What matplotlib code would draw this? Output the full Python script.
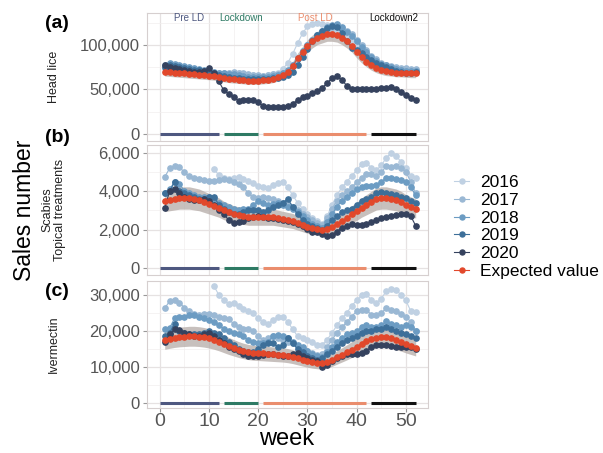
import numpy as np
import matplotlib
matplotlib.use("Agg")
import matplotlib.pyplot as plt
from matplotlib.lines import Line2D

plt.rcParams['font.family'] = ['Liberation Sans', 'DejaVu Sans']

nan = np.nan
weeks = np.arange(1, 53)
years = ['2016', '2017', '2018', '2019', '2020']
year_colors = ['#c0d1e3', '#9ab8d4', '#6c9cc3', '#3d6f99', '#35425e']
exp_color = '#e2482b'

# lockdown periods (start week, end week)
period_names = ['Pre LD', 'Lockdown', 'Post LD', 'Lockdown2']
period_start = [0, 13, 21, 43]
period_end = [12, 20, 42, 52]
period_colors = ['#4e5880', '#2e7a64', '#ea8d6d', '#111111']

# ---- (a) head lice, sales
lice_2016 = [nan] * 10 + [68, 67, 67, 68, 69, 68, 67, 66, 66, 65, 65, 66, 67, 69, 73, 80, 90, 102, 113, 121,
                          124, 125, 124, 122, 120, 117, 113, 108, 103, 98, 93, 88, 84, 80, 77, 75, 74, 73, 72, 72, 72, 72]
lice_2017 = [74, 76, 75, 74, 74, 73, 73, 72, 71, 70, 69, 68, 68, 69, 70, 69, 68, 67, 66, 66, 65, 66, 67, 67, 68, 71,
             77, 85, 93, 100, 106, 111, 115, 118, 120, 121, 119, 116, 112, 106, 100, 94, 88, 84, 80, 78, 76, 75, 74, 74, 73, 73]
lice_2018 = [78, 80, 79, 77, 76, 75, 74, 73, 72, 71, 70, 69, 68, 67, 67, 66, 65, 64, 64, 64, 64, 64, 65, 66, 68, 72,
             78, 85, 93, 100, 106, 111, 116, 120, 123, 124, 120, 115, 110, 104, 98, 92, 86, 82, 79, 77, 75, 73, 72, 71, 71, 71]
lice_2019 = [75, 77, 76, 75, 74, 73, 72, 72, 71, 70, 68, 66, 65, 64, 63, 63, 62, 62, 62, 62, 62, 62, 63, 63, 64, 66,
             70, 77, 86, 95, 104, 111, 116, 119, 121, 120, 114, 104, 97, 94, 91, 87, 83, 80, 77, 75, 73, 71, 70, 69, 69, 70]
lice_2020 = [77, 75, 74, 73, 72, 71, 70, 70, 71, 74, 68, 59, 49, 45, 42, 37, 38, 38, 38, 36, 31, 30, 30, 30, 30, 31,
             34, 38, 41, 43, 46, 48, 52, 57, 63, 65, 61, 54, 50, 50, 51, 51, 50, 51, 52, 52, 53, 50, 47, 44, 40, 38]
lice_exp = [70, 69.5, 69, 68.5, 68, 67.5, 67, 66.5, 66, 65.5, 65, 64, 63, 62, 61.5, 61, 60.5, 60, 60, 60, 60.5, 61,
            62, 64, 66, 70, 76, 85, 92, 99, 104, 108, 110, 112, 112, 111, 108, 104, 99, 92, 86, 81, 77, 74, 72,
            70.5, 70, 69, 69, 68.5, 68, 68]

# ---- (b) scabies topical treatments
scab_2016 = [nan] * 10 + [5150, 4850, 4700, 4650, 4700, 4750, 4650, 4550, 4450, 4300, 4200, 4150, 4350, 4450, 4500,
                          4200, 3800, 3400, 3100, 2800, 2600, 2450, 2300, 2700, 3300, 3800, 4200, 4500, 4800, 5100,
                          5400, 5500, 5200, 5100, 5350, 5750, 6000, 5850, 5550, 5200, 4800, 4700]
scab_2017 = [4750, 5200, 5300, 5250, 5000, 4800, 4700, 4650, 4600, 4550, 4550, 4600, 4650, 4600, 4500, 4400, 4200,
             3900, 3700, 3650, 3700, 3650, 3600, 3500, 3400, 3300, 3200, 3000, 2800, 2650, 2500, 2350, 2250, 2600,
             3100, 3500, 3800, 4000, 4200, 4500, 4700, 4900, 4900, 4800, 5000, 5300, 5250, 5300, 5200, 5000, 4500, 3900]
scab_2018 = [3900, 4100, 4500, 4400, 4000, 3900, 3800, 3700, 3700, 3700, 3600, 3400, 3300, 3200, 3100, 3000, 3050,
             3100, 3300, 3500, 3400, 3300, 3350, 3400, 3300, 3200, 3100, 2900, 2700, 2500, 2300, 2200, 2100, 2400,
             2800, 3200, 3500, 3700, 3900, 4100, 4200, 4300, 4300, 4350, 4500, 4700, 4700, 4650, 4600, 4500, 4200, 3800]
scab_2019 = [3900, 4000, 4500, 4000, 3900, 3800, 3700, 3600, 3600, 3700, 3700, 3300, 3100, 2900, 2800, 2800, 2900,
             3000, 3000, 3000, 2900, 3000, 3200, 3300, 3400, 3600, 3200, 2800, 2500, 2300, 2200, 2100, 2000, 2200,
             2500, 2700, 2900, 3000, 3100, 3300, 3500, 3600, 3700, 3900, 3950, 3900, 3850, 3800, 3700, 3650, 3500, 3400]
scab_2020 = [3150, 4000, 4100, 3900, 3700, 3600, 3550, 3550, 3600, 3500, 3300, 3000, 2800, 2500, 2350, 2400, 2450,
             2600, 2650, 2700, 2650, 2600, 2600, 2550, 2500, 2450, 2400, 2300, 2200, 2050, 1900, 1850, 1750, 1650,
             1700, 1900, 2100, 2200, 2300, 2250, 2250, 2300, 2400, 2500, 2600, 2650, 2700, 2750, 2800, 2800, 2700, 2200]
scab_exp = [3500, 3550, 3600, 3650, 3650, 3650, 3600, 3550, 3450, 3350, 3250, 3150, 3000, 2900, 2800, 2750, 2700,
            2650, 2650, 2650, 2650, 2650, 2650, 2600, 2550, 2500, 2450, 2350, 2250, 2150, 2100, 2050, 2000, 2050,
            2150, 2300, 2450, 2600, 2800, 2950, 3150, 3300, 3450, 3600, 3650, 3650, 3600, 3550, 3450, 3300, 3200, 3100]

# ---- (c) ivermectin
iver_2016 = [nan] * 10 + [32.5, 30.0, 28.5, 27.5, 27.8, 27.0, 26.0, 25.5, 25.0, 23.5, 22.5, 22.0, 23.0, 23.8, 24.0,
                          22.5, 20.5, 18.5, 18.0, 17.5, 17.0, 16.0, 16.2, 17.5, 19.5, 21.5, 23.5, 25.0, 27.0, 28.5,
                          30.0, 30.3, 28.5, 27.8, 29.0, 31.0, 31.8, 31.5, 30.0, 28.5, 25.5, 25.3]
iver_2017 = [26.3, 28.3, 28.5, 27.8, 26.5, 25.5, 24.8, 24.5, 24.8, 24.8, 24.5, 24.0, 23.5, 23.2, 22.0, 21.0, 20.5,
             20.5, 20.0, 18.5, 17.5, 18.0, 18.5, 18.0, 17.5, 17.0, 16.5, 15.5, 15.0, 14.5, 13.8, 13.2, 13.5, 15.5,
             17.5, 19.5, 21.0, 22.5, 24.0, 25.5, 25.8, 25.8, 24.5, 24.5, 25.0, 26.3, 25.8, 25.5, 24.8, 24.0, 22.5, 20.0]
iver_2018 = [20.5, 20.8, 23.5, 24.0, 24.0, 24.3, 24.5, 24.0, 23.5, 23.0, 22.5, 21.5, 20.5, 20.0, 19.5, 19.0, 18.5,
             17.5, 17.0, 16.5, 16.5, 17.0, 18.5, 18.8, 18.5, 18.0, 17.0, 16.0, 15.5, 14.5, 13.5, 13.0, 12.8, 14.0,
             15.5, 17.0, 18.0, 19.0, 19.5, 20.0, 21.0, 21.5, 21.0, 21.0, 21.5, 22.8, 22.0, 21.5, 21.0, 21.5, 21.0, 20.0]
iver_2019 = [18.5, 19.5, 22.0, 20.0, 19.5, 19.0, 19.2, 19.0, 19.5, 20.0, 19.5, 19.0, 18.0, 17.0, 16.0, 15.0, 14.5,
             14.0, 14.0, 15.0, 16.0, 16.5, 16.5, 15.5, 16.0, 18.0, 16.5, 15.0, 14.0, 13.0, 12.5, 12.0, 12.5, 13.5,
             14.5, 15.5, 16.5, 17.5, 18.0, 18.5, 19.5, 20.0, 20.0, 20.5, 20.5, 21.0, 20.5, 20.0, 19.5, 19.0, 18.5, 18.0]
iver_2020 = [17.0, 19.0, 20.5, 20.3, 19.5, 19.0, 18.5, 18.5, 19.0, 19.5, 18.5, 17.5, 16.5, 15.5, 15.0, 14.5, 13.5,
             13.0, 13.0, 13.0, 13.2, 13.5, 13.5, 13.3, 13.0, 13.0, 13.5, 13.8, 13.0, 12.5, 12.0, 11.5, 10.0, 10.5,
             11.5, 12.5, 13.0, 13.5, 13.5, 13.5, 13.8, 14.5, 15.5, 16.0, 16.0, 16.0, 15.8, 15.5, 15.5, 15.5, 15.5, 15.0]
iver_exp = [17.5, 17.8, 18.1, 18.3, 18.4, 18.5, 18.5, 18.4, 18.2, 17.9, 17.5, 17.0, 16.4, 15.8, 15.3, 14.8, 14.4,
            14.1, 13.9, 13.8, 13.7, 13.6, 13.5, 13.4, 13.3, 13.1, 12.8, 12.4, 12.0, 11.6, 11.3, 11.1, 11.0, 11.3,
            11.9, 12.6, 13.3, 14.0, 14.8, 15.6, 16.4, 17.1, 17.7, 18.1, 18.3, 18.2, 17.9, 17.4, 16.9, 16.3, 15.8, 15.3]

# relative half width of the grey prediction band
band_a, band_b, band_c = 0.07, 0.16, 0.15

panels = [
    dict(series=[lice_2016, lice_2017, lice_2018, lice_2019, lice_2020], exp=lice_exp, scale=1000, band=band_a,
         ylim=(-8000, 136000), major=[0, 50000, 100000], minor=[25000, 75000, 125000],
         ylabel='Head lice', tag='(a)', rect=[0.2438, 0.6887, 0.466, 0.2826]),
    dict(series=[scab_2016, scab_2017, scab_2018, scab_2019, scab_2020], exp=scab_exp, scale=1, band=band_b,
         ylim=(-370, 6420), major=[0, 2000, 4000, 6000], minor=[1000, 3000, 5000],
         ylabel='Scabies\nTopical treatments', tag='(b)', rect=[0.2438, 0.393, 0.466, 0.287]),
    dict(series=[iver_2016, iver_2017, iver_2018, iver_2019, iver_2020], exp=iver_exp, scale=1000, band=band_c,
         ylim=(-1500, 33900), major=[0, 10000, 20000, 30000], minor=[5000, 15000, 25000],
         ylabel='Ivermectin', tag='(c)', rect=[0.2438, 0.0993, 0.466, 0.2804]),
]
tag_y = [23, 138, 291]

fig = plt.figure(figsize=(6.03, 4.53), dpi=100)

for i, p in enumerate(panels):
    ax = fig.add_axes(p['rect'])
    ax.set_xlim(-2.6, 54.5)
    ax.set_ylim(*p['ylim'])
    ax.set_yticks(p['major'])
    ax.set_yticks(p['minor'], minor=True)
    ax.set_xticks([0, 10, 20, 30, 40, 50])
    ax.set_xticks([5, 15, 25, 35, 45], minor=True)
    ax.grid(True, which='major', color='#e6e2e2', linewidth=0.9)
    ax.grid(True, which='minor', color='#f1eeee', linewidth=0.5)
    ax.set_axisbelow(True)
    for s in ax.spines.values():
        s.set_color('#d6cfcf')
        s.set_linewidth(0.8)
    ax.tick_params(axis='y', which='major', labelsize=12, labelcolor='#555555', color='#999999', length=3, pad=2)
    ax.tick_params(which='minor', length=0)
    ax.tick_params(axis='x', which='major', labelsize=14, labelcolor='#555555', color='#999999', length=3, pad=0.5)
    ax.yaxis.set_major_formatter(matplotlib.ticker.FuncFormatter(lambda v, _: f'{int(v):,}'))
    if i < 2:
        ax.tick_params(axis='x', labelbottom=False, length=0)

    exp = np.array(p['exp']) * p['scale']
    ax.fill_between(weeks, exp * (1 - p['band']), exp * (1 + p['band']), color='#b0a6a2', alpha=0.7,
                    linewidth=0, zorder=1)
    for vals, c in zip(p['series'], year_colors):
        ax.plot(weeks, np.array(vals) * p['scale'], '-o', color=c, markersize=3.8, linewidth=0.8, zorder=2)
    ax.plot(weeks, exp, '-o', color=exp_color, markersize=3.8, linewidth=0.8, zorder=3)

    for s0, s1, c in zip(period_start, period_end, period_colors):
        ax.plot([s0, s1], [0, 0], color=c, linewidth=2.2, solid_capstyle='butt', zorder=3)
    if i == 0:
        for s0, s1, c, n in zip(period_start, period_end, period_colors, period_names):
            ax.text((s0 + s1) / 2, 130000, n, color=c, fontsize=7, ha='center', va='center')

    fig.text(57 / 603, 1 - tag_y[i] / 453, p['tag'], fontsize=14, fontweight='bold', ha='center', va='center')
    cy = p['rect'][1] + p['rect'][3] / 2
    fig.text(54 / 603, cy, p['ylabel'], fontsize=9, rotation=90, ha='center', va='center',
             color='#222222', linespacing=1.1)

fig.text(25 / 603, 1 - 210 / 453, 'Sales number', fontsize=16.5, rotation=90, ha='center', va='center')
fig.text(287 / 603, 1 - 439 / 453, 'week', fontsize=17, ha='center', va='center')

handles = [Line2D([], [], color=c, marker='o', markersize=3.6, linewidth=0.8) for c in year_colors]
handles.append(Line2D([], [], color=exp_color, marker='o', markersize=3.6, linewidth=0.8))
fig.legend(handles, years + ['Expected value'], loc='center left', bbox_to_anchor=(0.738, 1 - 227 / 453),
           frameon=False, fontsize=12.5, handlelength=0.9, handletextpad=0.6, labelspacing=0.15, borderpad=0)

fig.savefig('out.png', dpi=100)
